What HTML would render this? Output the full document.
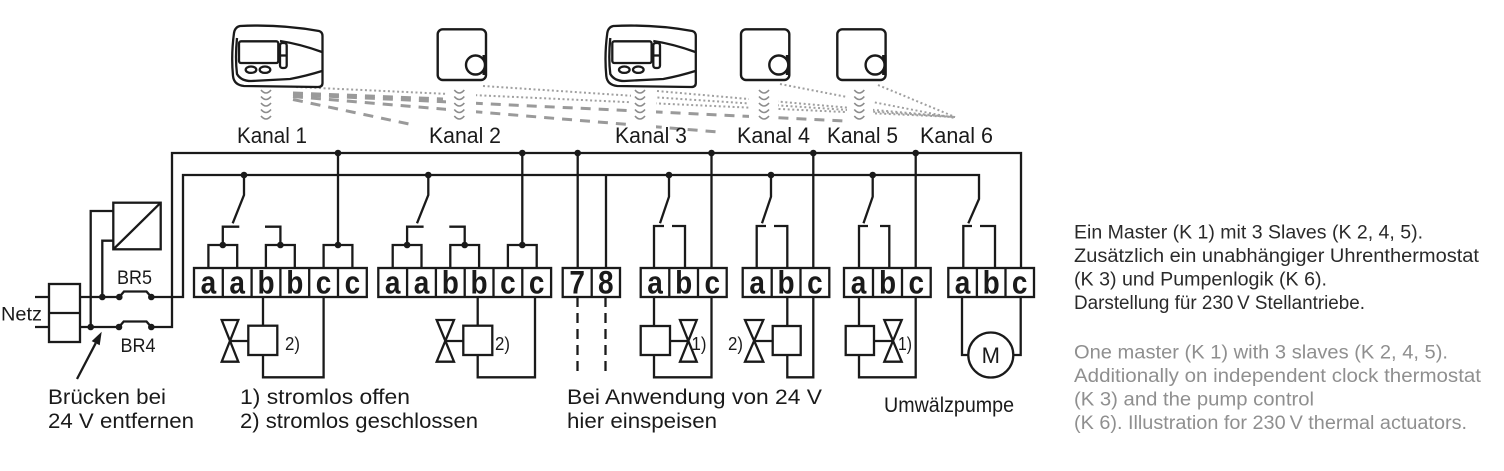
<!DOCTYPE html>
<html><head><meta charset="utf-8"><style>
html,body{margin:0;padding:0;background:#fff;}
svg{display:block;}
text{font-family:"Liberation Sans",Arial,sans-serif;}
</style></head><body>
<svg width="1504" height="471" viewBox="0 0 1504 471" xmlns="http://www.w3.org/2000/svg">
<rect width="1504" height="471" fill="#fff"/>

<!-- dotted signal lines (to pump logic K6) -->
<g fill="none" stroke="#a0a0a0" stroke-width="2" stroke-dasharray="2 2.6">
<path d="M296,87 L955,117"/>
<path d="M483,86 L955,117"/>
<path d="M657,91 L955,117"/>
<path d="M780,84 L955,118"/>
<path d="M878,85 L955,117"/>
</g>
<!-- dashed master->slave lines -->
<g fill="none" stroke="#9a9a9a" stroke-width="3" stroke-dasharray="10 8">
<path d="M293,93 L443,99"/>
<path d="M293,96.5 L718,132"/>
<path d="M293,99.5 L416,125.5"/>
<path d="M293,94.5 L845,121"/>
</g>
<!-- white gaps behind wave symbols -->
<g fill="#fff">
<rect x="446" y="88" width="30" height="41"/>
<rect x="631" y="89" width="25" height="40"/>
<rect x="749" y="88" width="29" height="41"/>
<rect x="847" y="88" width="26" height="41"/>
</g>
<!-- wave symbols -->
<g fill="none" stroke="#8c8c8c" stroke-width="1.6">
<path d="M261,90 Q266,96 271,90 M261,96.5 Q266,102.5 271,96.5 M261,103 Q266,109 271,103 M261,109.5 Q266,115.5 271,109.5 M261,116 Q266,122 271,116"/>
<path d="M454.3,90 Q459.3,96 464.3,90 M454.3,96.5 Q459.3,102.5 464.3,96.5 M454.3,103 Q459.3,109 464.3,103 M454.3,109.5 Q459.3,115.5 464.3,109.5 M454.3,116 Q459.3,122 464.3,116"/>
<path d="M635,90 Q640,96 645,90 M635,96.5 Q640,102.5 645,96.5 M635,103 Q640,109 645,103 M635,109.5 Q640,115.5 645,109.5 M635,116 Q640,122 645,116"/>
<path d="M759,90 Q764,96 769,90 M759,96.5 Q764,102.5 769,96.5 M759,103 Q764,109 769,103 M759,109.5 Q764,115.5 769,109.5 M759,116 Q764,122 769,116"/>
<path d="M854.3,90 Q859.3,96 864.3,90 M854.3,96.5 Q859.3,102.5 864.3,96.5 M854.3,103 Q859.3,109 864.3,103 M854.3,109.5 Q859.3,115.5 864.3,109.5 M854.3,116 Q859.3,122 864.3,116"/>
</g>

<!-- master thermostats -->
<g id="m1" fill="none" stroke="#1a1a1a" stroke-width="2.3">
<path d="M240,26 Q280,24 319,31 Q322.5,32 322.5,36 L322.5,83 Q322.5,87 318,87 L244,86 Q234,85 233,76 Q231,55 234,33 Q235,27 240,26 Z"/>
<path d="M237,38 Q235,58 237,74 Q241,81 251,81 L290,79 Q306,76 322,71"/>
<path d="M280,41 Q300,44 322,52"/>
<rect x="239" y="41.3" width="39.3" height="21.7" rx="2"/>
<ellipse cx="251" cy="69.7" rx="5.3" ry="3.2"/>
<ellipse cx="265" cy="69.7" rx="5.3" ry="3.2"/>
<rect x="280" y="43" width="6.7" height="25" rx="2.5"/>
<path d="M280,55.5 H286.7"/>
</g>
<g transform="translate(373.3,0)" fill="none" stroke="#1a1a1a" stroke-width="2.3">
<path d="M240,26 Q280,24 319,31 Q322.5,32 322.5,36 L322.5,83 Q322.5,87 318,87 L244,86 Q234,85 233,76 Q231,55 234,33 Q235,27 240,26 Z"/>
<path d="M237,38 Q235,58 237,74 Q241,81 251,81 L290,79 Q306,76 322,71"/>
<path d="M280,41 Q300,44 322,52"/>
<rect x="239" y="41.3" width="39.3" height="21.7" rx="2"/>
<ellipse cx="251" cy="69.7" rx="5.3" ry="3.2"/>
<ellipse cx="265" cy="69.7" rx="5.3" ry="3.2"/>
<rect x="280" y="43" width="6.7" height="25" rx="2.5"/>
<path d="M280,55.5 H286.7"/>
</g>

<!-- room thermostats -->
<g stroke="#1a1a1a" stroke-width="2.4">
<rect x="437.7" y="29.3" width="48.3" height="50.7" rx="5" fill="#fff"/>
<rect x="482.5" y="55" width="4.5" height="20" fill="#1a1a1a" stroke="none"/>
<circle cx="475.5" cy="65" r="9.5" fill="#fff"/>
<rect x="741" y="29.3" width="48.3" height="50.7" rx="5" fill="#fff"/>
<rect x="785.8" y="55" width="4.5" height="20" fill="#1a1a1a" stroke="none"/>
<circle cx="778.8" cy="65" r="9.5" fill="#fff"/>
<rect x="837.3" y="29.3" width="48.3" height="50.7" rx="5" fill="#fff"/>
<rect x="882.1" y="55" width="4.5" height="20" fill="#1a1a1a" stroke="none"/>
<circle cx="875.1" cy="65" r="9.5" fill="#fff"/>
</g>

<!-- wiring -->
<g fill="none" stroke="#1a1a1a" stroke-width="2.3">
<!-- Netz -->
<rect x="49" y="284" width="31" height="58"/>
<path d="M49,313 H80"/>
<path d="M35,297 H49 M35,327 H49"/>
<path d="M80,297 H119.3 M151.3,297 H183 V175 H979 V199 L968.3,223.3"/>
<path d="M119.3,297 L124,291.5 H146.5 L151.3,297"/>
<path d="M80,327 H119 M151.3,327 H172 V153 H1021 V268"/>
<path d="M119,327 L123.7,321.5 H146.5 L151.3,327"/>
<path d="M90.7,327 V211 H113.3 M102.3,297 V240.7 H113.3"/>
<rect x="113.3" y="202.7" width="47.4" height="46.6"/>
<path d="M113.3,249.3 L160.7,202.7"/>
<path d="M77,379 L95.7,343.2"/>

<!-- Block 1 -->
<rect x="194" y="268" width="172.8" height="29"/>
<path d="M222.8,268 V297 M251.6,268 V297 M280.4,268 V297 M309.2,268 V297 M338,268 V297"/>
<path d="M208.4,268 V245 H237.2 V268 M222.8,245 V226.7 H239.3"/>
<path d="M265.9,268 V245 H294.8 V268 M280.4,245 V226.7 H265"/>
<path d="M323.6,268 V245 H352.4 V268 M338,245 V153"/>
<path d="M244,175 V195 L232.7,223.3"/>
<path d="M263,297 V325.7 M263,355 V377.3 H323.6 V297"/>
<rect x="248.3" y="325.7" width="29" height="29.3"/>
<path d="M221.7,320 H238.3 L221.7,361.7 H238.3 Z M230,341 H248.3"/>

<!-- Block 2 -->
<rect x="378.3" y="268" width="172.8" height="29"/>
<path d="M407.1,268 V297 M435.9,268 V297 M464.7,268 V297 M493.5,268 V297 M522.3,268 V297"/>
<path d="M392.7,268 V245 H421.5 V268 M407.1,245 V226.7 H423.6"/>
<path d="M450.3,268 V245 H479.1 V268 M464.7,245 V226.7 H449.3"/>
<path d="M507.9,268 V245 H536.7 V268 M522.3,245 V153"/>
<path d="M428.3,175 V195 L417,223.3"/>
<path d="M477.7,297 V325.7 M477.7,355 V377.3 H535 V297"/>
<rect x="463.3" y="325.7" width="29" height="29.3"/>
<path d="M436.7,320 H454 L436.7,361.7 H454 Z M445.3,341 H463.3"/>

<!-- 7/8 -->
<rect x="562.7" y="268" width="57.3" height="29"/>
<path d="M591.7,268 V297"/>
<path d="M577.7,153 V268 M606,175 V268"/>
<path d="M577.5,297 V376 M605.5,297 V376" stroke-dasharray="10 6"/>

<!-- Block 3 -->
<rect x="640.7" y="268" width="86" height="29"/>
<path d="M669.3,268 V297 M698,268 V297"/>
<path d="M669,175 V196.7 L660,223.3"/>
<path d="M654,268 V226 H664 M672,226 H685 V268"/>
<path d="M711.5,153 V268"/>
<path d="M654,297 V326 M654,355 V377.3 H711.5 V297"/>
<rect x="640.7" y="326" width="29.3" height="29"/>
<path d="M680,320 H696.7 L680,361.7 H696.7 Z M670,341 H688.3"/>

<!-- Block 4 -->
<rect x="742.7" y="268" width="86.6" height="29"/>
<path d="M771.7,268 V297 M800.5,268 V297"/>
<path d="M771,175 V196.7 L762,223.3"/>
<path d="M756.7,268 V226 H766 M774,226 H787.3 V268"/>
<path d="M813.3,153 V268"/>
<path d="M787.3,297 V326 M787.3,355 V377.3 H813.3 V297"/>
<rect x="772.7" y="326" width="28" height="29"/>
<path d="M745,320 H763.3 L745,361.7 H763.3 Z M754,341 H772.7"/>

<!-- Block 5 -->
<rect x="844" y="268" width="86.7" height="29"/>
<path d="M873,268 V297 M902,268 V297"/>
<path d="M872.7,175 V196.7 L863.5,223.3"/>
<path d="M859,268 V226 H868 M880,226 H889.3 V268"/>
<path d="M915.7,153 V268"/>
<path d="M859,297 V326 M859,355 V377.3 H915.7 V297"/>
<rect x="845.7" y="326" width="28.3" height="29"/>
<path d="M884.3,320 H901.7 L884.3,361.7 H901.7 Z M874,341 H893"/>

<!-- Block 6 pump -->
<rect x="948.3" y="268" width="85.7" height="29"/>
<path d="M976.9,268 V297 M1005.5,268 V297"/>
<path d="M963.3,268 V226 H972 M980,226 H995 V268"/>
<circle cx="990.8" cy="355" r="22.5"/>
<path d="M962,297 V355 H968.3 M1020.7,297 V355 H1013.3"/>
</g>

<!-- arrowhead -->
<polygon points="101.7,331.7 99.7,345.3 91.7,341.1" fill="#1a1a1a"/>

<!-- junction dots -->
<g fill="#1a1a1a">
<circle cx="90.7" cy="327" r="3.3"/><circle cx="102.3" cy="297" r="3.3"/>
<circle cx="119.3" cy="297" r="3.3"/><circle cx="151.3" cy="297" r="3.3"/>
<circle cx="119" cy="327" r="3.3"/><circle cx="151.3" cy="327" r="3.3"/>
<circle cx="222.8" cy="245" r="3.3"/><circle cx="280.4" cy="245" r="3.3"/><circle cx="338" cy="245" r="3.3"/>
<circle cx="338" cy="153" r="3.3"/><circle cx="244" cy="175" r="3.3"/>
<circle cx="407.1" cy="245" r="3.3"/><circle cx="464.7" cy="245" r="3.3"/><circle cx="522.3" cy="245" r="3.3"/>
<circle cx="522.3" cy="153" r="3.3"/><circle cx="428.3" cy="175" r="3.3"/>
<circle cx="577.7" cy="153" r="3.3"/>
<circle cx="669" cy="175" r="3.3"/><circle cx="711.5" cy="153" r="3.3"/>
<circle cx="771" cy="175" r="3.3"/><circle cx="813.3" cy="153" r="3.3"/>
<circle cx="872.7" cy="175" r="3.3"/><circle cx="915.7" cy="153" r="3.3"/>
</g>

<!-- terminal letters -->
<g font-size="28" font-weight="bold" fill="#1a1a1a" text-anchor="middle" transform="translate(0,293.5) scale(1,1.15) translate(0,-293.5)">
<text x="208.4" y="293.5">a</text><text x="237.2" y="293.5">a</text><text x="266" y="293.5">b</text><text x="294.8" y="293.5">b</text><text x="323.6" y="293.5">c</text><text x="352.4" y="293.5">c</text>
<text x="392.7" y="293.5">a</text><text x="421.5" y="293.5">a</text><text x="450.3" y="293.5">b</text><text x="479.1" y="293.5">b</text><text x="507.9" y="293.5">c</text><text x="536.7" y="293.5">c</text>
<text x="577.2" y="293.5">7</text><text x="605.8" y="293.5">8</text>
<text x="655" y="293.5">a</text><text x="683.7" y="293.5">b</text><text x="712.3" y="293.5">c</text>
<text x="757.2" y="293.5">a</text><text x="786.1" y="293.5">b</text><text x="814.9" y="293.5">c</text>
<text x="858.5" y="293.5">a</text><text x="887.5" y="293.5">b</text><text x="916.3" y="293.5">c</text>
<text x="962.6" y="293.5">a</text><text x="991.2" y="293.5">b</text><text x="1019.7" y="293.5">c</text>
</g>

<!-- labels -->
<g fill="#1a1a1a" font-size="22">
<text x="237" y="143" textLength="70" lengthAdjust="spacingAndGlyphs">Kanal 1</text>
<text x="429" y="143" textLength="72" lengthAdjust="spacingAndGlyphs">Kanal 2</text>
<text x="615" y="143" textLength="72" lengthAdjust="spacingAndGlyphs">Kanal 3</text>
<text x="737" y="143" textLength="73" lengthAdjust="spacingAndGlyphs">Kanal 4</text>
<text x="827" y="143" textLength="71" lengthAdjust="spacingAndGlyphs">Kanal 5</text>
<text x="920" y="143" textLength="73" lengthAdjust="spacingAndGlyphs">Kanal 6</text>
</g>
<g fill="#1a1a1a" font-size="19">
<text x="1" y="320.5" textLength="41" lengthAdjust="spacingAndGlyphs">Netz</text>
<text x="117" y="284" textLength="35" lengthAdjust="spacingAndGlyphs">BR5</text>
<text x="120.5" y="352" textLength="35" lengthAdjust="spacingAndGlyphs">BR4</text>
</g>
<g fill="#1a1a1a" font-size="18">
<text x="285" y="350" textLength="15" lengthAdjust="spacingAndGlyphs">2)</text>
<text x="495" y="350" textLength="15" lengthAdjust="spacingAndGlyphs">2)</text>
<text x="691.5" y="350" textLength="15" lengthAdjust="spacingAndGlyphs">1)</text>
<text x="728" y="350" textLength="15" lengthAdjust="spacingAndGlyphs">2)</text>
<text x="898" y="350" textLength="14" lengthAdjust="spacingAndGlyphs">1)</text>
</g>
<text x="990.8" y="363" font-size="22" fill="#1a1a1a" text-anchor="middle">M</text>
<g fill="#1a1a1a" font-size="21.5">
<text x="48" y="404" textLength="118" lengthAdjust="spacingAndGlyphs">Brücken bei</text>
<text x="48" y="428" textLength="146" lengthAdjust="spacingAndGlyphs">24 V entfernen</text>
<text x="240" y="404" textLength="170" lengthAdjust="spacingAndGlyphs">1) stromlos offen</text>
<text x="240" y="428" textLength="238" lengthAdjust="spacingAndGlyphs">2) stromlos geschlossen</text>
<text x="567" y="404" textLength="255" lengthAdjust="spacingAndGlyphs">Bei Anwendung von 24 V</text>
<text x="567" y="428" textLength="150" lengthAdjust="spacingAndGlyphs">hier einspeisen</text>
<text x="884" y="412" textLength="130" lengthAdjust="spacingAndGlyphs">Umwälzpumpe</text>
</g>

<!-- description -->
<g font-size="19" fill="#2a2a2a">
<text x="1074" y="238.5" textLength="349" lengthAdjust="spacingAndGlyphs">Ein Master (K 1) mit 3 Slaves (K 2, 4, 5).</text>
<text x="1074" y="262" textLength="405" lengthAdjust="spacingAndGlyphs">Zusätzlich ein unabhängiger Uhrenthermostat</text>
<text x="1074" y="285.5" textLength="253" lengthAdjust="spacingAndGlyphs">(K 3) und Pumpenlogik (K 6).</text>
<text x="1074" y="309" textLength="291" lengthAdjust="spacingAndGlyphs">Darstellung für 230&#8201;V Stellantriebe.</text>
</g>
<g font-size="19" fill="#8f8f8f">
<text x="1074" y="358.5" textLength="374" lengthAdjust="spacingAndGlyphs">One master (K 1) with 3 slaves (K 2, 4, 5).</text>
<text x="1074" y="382" textLength="407" lengthAdjust="spacingAndGlyphs">Additionally on independent clock thermostat</text>
<text x="1074" y="405.5" textLength="240" lengthAdjust="spacingAndGlyphs">(K 3) and the pump control</text>
<text x="1074" y="429" textLength="393" lengthAdjust="spacingAndGlyphs">(K 6). Illustration for 230&#8201;V thermal actuators.</text>
</g>
</svg>
</body></html>
